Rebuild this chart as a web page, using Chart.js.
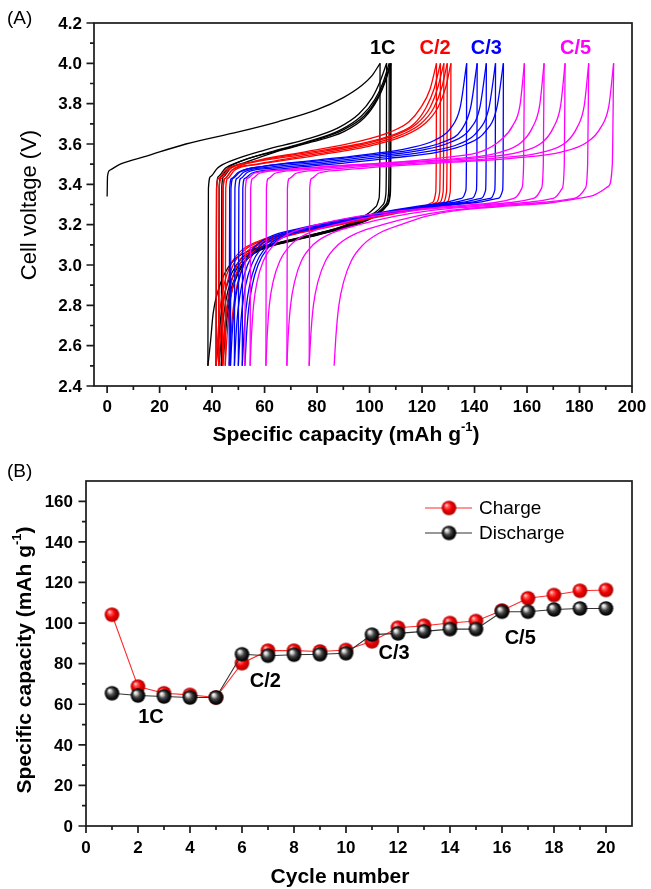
<!DOCTYPE html>
<html>
<head>
<meta charset="utf-8">
<script src="https://cdn.jsdelivr.net/npm/chart.js@4.4.1/dist/chart.umd.min.js"></script>
<style>
  html, body { margin: 0; padding: 0; background: #fff; }
  #wrap { position: relative; width: 651px; height: 889px; }
  canvas { position: absolute; left: 0; }
  #voltage { top: 0; }
  #rate { top: 445px; }
</style>
</head>
<body>
<div id="wrap">
  <canvas id="voltage" width="651" height="445"></canvas>
  <canvas id="rate" width="651" height="444"></canvas>
</div>
<script>
// ---------------- Panel A: voltage profiles, [capacity mAh/g, voltage V] ----------------
// 1C cycles
const charge01 = [[0,3.34],[0.15,3.44],[1,3.47],[5,3.50],[15,3.54],[30,3.60],[50,3.66],[65,3.71],[80,3.77],[90,3.83],[97,3.89],[101,3.94],[104,4.00]];
const discharge01 = [[38.4,2.50],[39.4,2.62],[40.4,2.76],[42,2.86],[44.5,2.95],[48,3.02],[54,3.07],[62,3.10],[75,3.14],[87,3.18],[95,3.22],[100,3.26],[102.5,3.29],[103.6,3.33],[103.9,3.45],[104,4.00]];
const charge02 = [[38.4,2.50],[38.6,3.38],[39.5,3.44],[42,3.48],[48,3.52],[60,3.57],[75,3.62],[88,3.68],[96,3.75],[101,3.83],[104,3.91],[106.5,4.00]];
const discharge02 = [[41.5,2.50],[42.5,2.63],[43.5,2.76],[45,2.87],[47.5,2.96],[51,3.03],[57,3.08],[65,3.11],[78,3.15],[90,3.19],[98,3.23],[103,3.27],[105.2,3.30],[106.2,3.35],[106.4,3.50],[106.5,4.00]];
const charge03 = [[41.5,2.50],[41.7,3.38],[42.5,3.44],[45,3.48],[50,3.51],[62,3.56],[76,3.61],[89,3.67],[97,3.74],[102,3.82],[105,3.90],[107.5,4.00]];
const discharge03 = [[42.5,2.50],[43.5,2.63],[44.5,2.76],[46,2.87],[48.5,2.96],[52,3.03],[58,3.08],[66,3.11],[79,3.15],[91,3.19],[99,3.23],[104,3.27],[106.2,3.30],[107.2,3.35],[107.4,3.50],[107.5,4.00]];
const charge04 = [[42.5,2.50],[42.7,3.39],[43.5,3.44],[46,3.48],[52,3.52],[63,3.56],[77,3.61],[90,3.67],[98,3.74],[103,3.83],[106,3.92],[108,4.00]];
const discharge04 = [[43.5,2.50],[44.4,2.63],[45.4,2.76],[47,2.87],[49.5,2.96],[53,3.03],[59,3.08],[67,3.11],[80,3.15],[92,3.19],[100,3.23],[104.5,3.27],[106.7,3.30],[107.7,3.35],[107.9,3.50],[108,4.00]];
const charge05 = [[43.5,2.50],[43.7,3.39],[44.5,3.44],[47,3.48],[53,3.51],[64,3.56],[78,3.61],[90,3.66],[98,3.73],[103,3.82],[106,3.91],[108.2,4.00]];
const discharge05 = [[44,2.50],[44.9,2.63],[45.9,2.76],[47.5,2.87],[50,2.96],[53.5,3.03],[59.5,3.08],[67.5,3.11],[80.5,3.15],[92.5,3.19],[100.5,3.23],[105,3.27],[107,3.30],[107.9,3.35],[108.1,3.50],[108.2,4.00]];
// C/2 cycles
const charge06 = [[44,2.50],[44.2,3.38],[45,3.43],[47.5,3.47],[55,3.51],[75,3.56],[95,3.61],[108,3.66],[115,3.71],[119.5,3.78],[123,3.87],[125.5,4.00]];
const discharge06 = [[41.5,2.50],[42.2,2.65],[43,2.78],[44.5,2.90],[47,3.00],[51,3.07],[58,3.12],[70,3.16],[85,3.20],[100,3.24],[112,3.27],[120,3.29],[124,3.31],[125.2,3.36],[125.4,3.50],[125.5,4.00]];
const charge07 = [[41.5,2.50],[41.7,3.38],[42.5,3.43],[45,3.47],[55,3.51],[75,3.555],[96,3.60],[110,3.65],[117,3.70],[121.5,3.78],[124.5,3.87],[127,4.00]];
const discharge07 = [[42.5,2.50],[43.2,2.65],[44,2.78],[45.5,2.90],[48,3.00],[52,3.07],[59,3.12],[71,3.16],[86,3.20],[101,3.24],[113,3.27],[121.5,3.29],[125.5,3.31],[126.7,3.36],[126.9,3.50],[127,4.00]];
const charge08 = [[42.5,2.50],[42.7,3.38],[43.5,3.43],[46,3.47],[56,3.51],[76,3.55],[98,3.60],[111,3.65],[118,3.70],[123,3.78],[126,3.88],[128.3,4.00]];
const discharge08 = [[44,2.50],[44.7,2.65],[45.5,2.78],[47,2.90],[49.5,3.00],[53.5,3.07],[60.5,3.12],[72,3.16],[87,3.20],[102,3.24],[114,3.27],[122.5,3.29],[126.8,3.31],[128,3.36],[128.2,3.50],[128.3,4.00]];
const charge09 = [[44,2.50],[44.2,3.38],[45,3.43],[47.5,3.47],[57,3.50],[77,3.545],[99,3.595],[112,3.645],[119.5,3.70],[124.5,3.78],[127.5,3.88],[129.6,4.00]];
const discharge09 = [[45,2.50],[45.7,2.65],[46.5,2.78],[48,2.90],[50.5,3.00],[54.5,3.07],[61.5,3.12],[73,3.16],[88,3.20],[103,3.24],[115,3.27],[124,3.29],[128.1,3.31],[129.3,3.36],[129.5,3.50],[129.6,4.00]];
const charge10 = [[45,2.50],[45.2,3.38],[46,3.43],[48.5,3.47],[58,3.50],[78,3.54],[100,3.59],[113,3.64],[121,3.70],[126,3.78],[129,3.88],[131,4.00]];
const discharge10 = [[46.5,2.50],[47.2,2.65],[48,2.78],[49.5,2.90],[52,3.00],[56,3.07],[63,3.12],[74,3.16],[89,3.20],[104,3.24],[116,3.27],[125,3.29],[129.5,3.31],[130.7,3.36],[130.9,3.50],[131,4.00]];
// C/3 cycles
const charge11 = [[46.5,2.50],[46.7,3.38],[47.5,3.43],[50,3.46],[60,3.49],[80,3.52],[100,3.55],[115,3.58],[125,3.62],[131,3.68],[134.5,3.78],[137,4.00]];
const discharge11 = [[47,2.50],[47.6,2.65],[48.4,2.78],[49.8,2.90],[52,3.00],[55.5,3.08],[62,3.14],[73,3.18],[88,3.22],[104,3.26],[118,3.29],[129,3.31],[135,3.33],[136.7,3.37],[136.9,3.50],[137,4.00]];
const charge12 = [[47,2.50],[47.2,3.38],[48,3.43],[50.5,3.46],[60,3.49],[80,3.515],[100,3.545],[118,3.575],[128,3.61],[135,3.67],[138.5,3.78],[141,4.00]];
const discharge12 = [[48.5,2.50],[49.1,2.65],[49.9,2.78],[51.3,2.90],[53.5,3.00],[57,3.08],[63.5,3.14],[74.5,3.18],[89.5,3.22],[105,3.26],[120,3.29],[132,3.31],[139,3.33],[140.7,3.37],[140.9,3.50],[141,4.00]];
const charge13 = [[48.5,2.50],[48.7,3.38],[49.5,3.43],[52,3.46],[62,3.485],[82,3.51],[102,3.54],[120,3.57],[131,3.61],[138,3.67],[142,3.78],[144.5,4.00]];
const discharge13 = [[50,2.50],[50.6,2.65],[51.4,2.78],[52.8,2.90],[55,3.00],[58.5,3.08],[65,3.14],[76,3.18],[91,3.22],[106,3.26],[122,3.29],[135,3.31],[142.5,3.33],[144.2,3.37],[144.4,3.50],[144.5,4.00]];
const charge14 = [[50,2.50],[50.2,3.38],[51,3.43],[53.5,3.46],[63,3.48],[84,3.505],[105,3.535],[123,3.565],[134,3.60],[141,3.66],[145.5,3.78],[148,4.00]];
const discharge14 = [[51.5,2.50],[52.1,2.65],[52.9,2.78],[54.3,2.90],[56.5,3.00],[60,3.08],[66.5,3.14],[77.5,3.18],[92.5,3.22],[108,3.26],[124,3.29],[138,3.31],[146,3.33],[147.7,3.37],[147.9,3.50],[148,4.00]];
const charge15 = [[51.5,2.50],[51.7,3.38],[52.5,3.43],[55,3.455],[65,3.475],[86,3.50],[108,3.53],[126,3.56],[137,3.60],[144,3.66],[148.5,3.78],[151,4.00]];
const discharge15 = [[52.5,2.50],[53.1,2.65],[53.9,2.78],[55.3,2.90],[57.5,3.00],[61,3.08],[67.5,3.14],[78.5,3.18],[93.5,3.22],[109,3.26],[126,3.29],[141,3.31],[149,3.33],[150.7,3.37],[150.9,3.50],[151,4.00]];
// C/5 cycles
const charge16 = [[52.5,2.50],[52.7,3.38],[53.5,3.43],[56,3.455],[65,3.47],[85,3.49],[110,3.51],[130,3.535],[143,3.565],[150,3.62],[154.5,3.69],[157.3,3.79],[159,4.00]];
const discharge16 = [[54.5,2.50],[55,2.65],[55.8,2.80],[57.2,2.92],[59.5,3.02],[63.5,3.10],[70,3.16],[80,3.20],[95,3.24],[112,3.27],[130,3.29],[148,3.31],[155,3.33],[158,3.38],[158.7,3.50],[159,4.00]];
const charge17 = [[54.5,2.50],[54.7,3.38],[55.5,3.43],[58,3.455],[67,3.47],[87,3.49],[112,3.51],[135,3.53],[150,3.56],[158,3.61],[162,3.68],[164.8,3.79],[166.5,4.00]];
const discharge17 = [[60.5,2.50],[61,2.65],[61.8,2.80],[63.3,2.92],[65.8,3.02],[70,3.10],[77,3.16],[87,3.20],[101,3.24],[117,3.27],[135,3.29],[154,3.31],[162.5,3.33],[165.5,3.38],[166.2,3.50],[166.5,4.00]];
const charge18 = [[60.5,2.50],[60.7,3.38],[61.5,3.43],[64,3.455],[73,3.47],[93,3.49],[118,3.51],[140,3.53],[157,3.56],[166,3.61],[170,3.68],[172.8,3.79],[174.5,4.00]];
const discharge18 = [[68.5,2.50],[69,2.65],[69.9,2.80],[71.5,2.92],[74,3.02],[78.5,3.10],[86,3.16],[96,3.20],[109,3.24],[123,3.27],[140,3.29],[160,3.31],[170,3.33],[173.4,3.38],[174.2,3.50],[174.5,4.00]];
const charge19 = [[68.5,2.50],[68.7,3.38],[69.5,3.43],[72,3.455],[81,3.47],[100,3.49],[125,3.51],[148,3.53],[166,3.56],[175,3.61],[179,3.68],[181.8,3.79],[183.5,4.00]];
const discharge19 = [[77,2.50],[77.6,2.65],[78.6,2.80],[80.4,2.92],[83.2,3.02],[88,3.10],[95.5,3.16],[105,3.20],[117,3.24],[130,3.27],[146,3.29],[166,3.31],[178,3.33],[182.2,3.38],[183.1,3.50],[183.5,4.00]];
const charge20 = [[77,2.50],[77.2,3.38],[78,3.43],[80.5,3.455],[89,3.47],[108,3.49],[132,3.51],[155,3.53],[173,3.56],[183,3.61],[188,3.68],[191.2,3.79],[193,4.00]];
const discharge20 = [[86.5,2.50],[87.2,2.65],[88.3,2.80],[90.2,2.92],[93,3.02],[97.5,3.10],[104,3.16],[112,3.20],[121,3.24],[133,3.27],[150,3.29],[170,3.31],[184,3.34],[191,3.39],[192.5,3.50],[193,4.00]];

const cycleRates = ['1C','1C','1C','1C','1C','C/2','C/2','C/2','C/2','C/2','C/3','C/3','C/3','C/3','C/3','C/5','C/5','C/5','C/5','C/5'];
const chargeCurves = [charge01,charge02,charge03,charge04,charge05,charge06,charge07,charge08,charge09,charge10,charge11,charge12,charge13,charge14,charge15,charge16,charge17,charge18,charge19,charge20];
const dischargeCurves = [discharge01,discharge02,discharge03,discharge04,discharge05,discharge06,discharge07,discharge08,discharge09,discharge10,discharge11,discharge12,discharge13,discharge14,discharge15,discharge16,discharge17,discharge18,discharge19,discharge20];

const voltageTicks = [2.4,2.6,2.8,3.0,3.2,3.4,3.6,3.8,4.0,4.2];
const voltageMinorTicks = [2.5,2.7,2.9,3.1,3.3,3.5,3.7,3.9,4.1];
const capacityTicks = [0,20,40,60,80,100,120,140,160,180,200];
const capacityMinorTicks = [10,30,50,70,90,110,130,150,170,190];

const rateLabels = ['1C','C/2','C/3','C/5'];
const rateLabelCapacity = [105,125,144.5,178.5];
const rateLabelVoltage = [4.075,4.075,4.075,4.075];

// ---------------- Panel B: rate capability ----------------
const cycleNumbers = [1,2,3,4,5,6,7,8,9,10,11,12,13,14,15,16,17,18,19,20];
const chargeCapacity = [104.1,68.7,65.4,64.6,63.3,80.2,86.4,86.4,86.0,86.7,91.0,97.7,98.7,100.0,101.0,106.2,112.2,113.8,115.9,116.3];
const dischargeCapacity = [65.4,64.3,63.8,63.3,63.3,84.6,83.9,84.4,84.6,85.1,94.3,94.9,95.9,97.0,97.0,105.6,105.6,106.7,107.2,107.2];

const cycleTicks = [0,2,4,6,8,10,12,14,16,18,20];
const cycleMinorTicks = [1,3,5,7,9,11,13,15,17,19];
const specCapTicks = [0,20,40,60,80,100,120,140,160];
const specCapMinorTicks = [10,30,50,70,90,110,130,150];

const rateLabelCycle = [2.5,6.9,11.85,16.7];
const rateLabelSpecCap = [53.5,71,85,92.5];

// ---------------- styling ----------------
const FONT = '"Liberation Sans", Arial, Helvetica, sans-serif';
const rateColours = { '1C': '#000000', 'C/2': '#ff0000', 'C/3': '#0000ff', 'C/5': '#ff00ff' };
const AXIS_COLOUR = '#1a1a1a';

function ball(r, stops) {
  const size = Math.ceil(2 * r + 2);
  const c = document.createElement('canvas');
  c.width = size; c.height = size;
  const g = c.getContext('2d');
  const cx = size / 2, cy = size / 2;
  const grad = g.createRadialGradient(cx - r * 0.38, cy - r * 0.42, r * 0.05, cx, cy, r);
  stops.forEach(([o, col]) => grad.addColorStop(o, col));
  g.fillStyle = grad;
  g.beginPath(); g.arc(cx, cy, r, 0, Math.PI * 2); g.fill();
  return c;
}
const redBall = ball(7.3, [[0, '#ffd8d8'], [0.22, '#ff5a5a'], [0.55, '#f20000'], [1, '#a80000']]);
const blackBall = ball(7.3, [[0, '#ffffff'], [0.2, '#c4c4c4'], [0.45, '#4a4a4a'], [0.75, '#121212'], [1, '#000000']]);

function drawRich(ctx, parts, x, y, size, weight, rotate) {
  ctx.save();
  ctx.translate(x, y);
  if (rotate) ctx.rotate(-Math.PI / 2);
  const supSize = Math.round(size * 0.62);
  let total = 0;
  parts.forEach(p => {
    ctx.font = `${weight} ${p.sup ? supSize : size}px ${FONT}`;
    p.w = ctx.measureText(p.t).width;
    total += p.w;
  });
  let cur = -total / 2;
  ctx.textBaseline = 'middle';
  ctx.textAlign = 'left';
  ctx.fillStyle = '#000';
  parts.forEach(p => {
    ctx.font = `${weight} ${p.sup ? supSize : size}px ${FONT}`;
    ctx.fillText(p.t, cur, p.sup ? -size * 0.36 : 0);
    cur += p.w;
  });
  ctx.restore();
}

function frame(chart, o) {
  const { ctx, chartArea: a } = chart;
  const xs = chart.scales.x, ys = chart.scales.y;
  ctx.save();
  ctx.strokeStyle = AXIS_COLOUR;
  ctx.lineWidth = 1.7;
  ctx.strokeRect(a.left, a.top, a.right - a.left, a.bottom - a.top);
  ctx.beginPath();
  o.xMajor.forEach(v => { const p = xs.getPixelForValue(v); ctx.moveTo(p, a.bottom); ctx.lineTo(p, a.bottom + 7); });
  o.xMinor.forEach(v => { const p = xs.getPixelForValue(v); ctx.moveTo(p, a.bottom); ctx.lineTo(p, a.bottom + 4); });
  o.yMajor.forEach(v => { const p = ys.getPixelForValue(v); ctx.moveTo(a.left, p); ctx.lineTo(a.left - 7.5, p); });
  o.yMinor.forEach(v => { const p = ys.getPixelForValue(v); ctx.moveTo(a.left, p); ctx.lineTo(a.left - 4, p); });
  ctx.stroke();

  ctx.fillStyle = '#000';
  ctx.font = `bold 17px ${FONT}`;
  ctx.textAlign = 'center';
  ctx.textBaseline = 'middle';
  o.xMajor.forEach(v => ctx.fillText(o.xFmt(v), xs.getPixelForValue(v), o.xLabelY));
  ctx.textAlign = 'right';
  o.yMajor.forEach(v => ctx.fillText(o.yFmt(v), o.yLabelRight, ys.getPixelForValue(v) + 1));

  // panel tag
  ctx.font = `19px ${FONT}`;
  ctx.textAlign = 'left';
  ctx.fillText(o.tag, 7, o.tagY);
  ctx.restore();

  drawRich(ctx, o.xTitle, o.xTitlePos[0], o.xTitlePos[1], 21, 'bold', false);
  drawRich(ctx, o.yTitle, o.yTitlePos[0], o.yTitlePos[1], o.yTitleSize, o.yTitleWeight, true);
}

// ---------------- Chart A ----------------
const voltageSets = [];
cycleRates.forEach((rate, i) => {
  [chargeCurves[i], dischargeCurves[i]].forEach((curve, k) => {
    voltageSets.push({
      label: `cycle ${i + 1} ${k ? 'discharge' : 'charge'}`,
      data: curve.map(([x, y]) => ({ x, y })),
      borderColor: rateColours[rate],
      borderWidth: 1.3,
      pointRadius: 0,
      showLine: true,
      fill: false,
      cubicInterpolationMode: 'monotone',
      order: 100 - i
    });
  });
});

new Chart(document.getElementById('voltage'), {
  type: 'scatter',
  data: { datasets: voltageSets },
  options: {
    responsive: false,
    animation: false,
    devicePixelRatio: 1,
    layout: { padding: { top: 23, right: 19, left: 0, bottom: 0 } },
    plugins: { legend: { display: false }, tooltip: { enabled: false } },
    scales: {
      x: {
        type: 'linear', min: -5, max: 200,
        grid: { display: false }, border: { display: false },
        ticks: { display: false },
        afterFit: s => { s.height = 59; }
      },
      y: {
        type: 'linear', min: 2.4, max: 4.2,
        grid: { display: false }, border: { display: false },
        ticks: { display: false },
        afterFit: s => { s.width = 94; }
      }
    }
  },
  plugins: [{
    id: 'voltageFrame',
    afterDraw(chart) {
      frame(chart, {
        xMajor: capacityTicks, xMinor: capacityMinorTicks,
        yMajor: voltageTicks, yMinor: voltageMinorTicks,
        xFmt: v => String(v), yFmt: v => v.toFixed(1),
        xLabelY: 407, yLabelRight: 82,
        tag: '(A)', tagY: 19,
        xTitle: [{ t: 'Specific capacity (mAh g' }, { t: '-1', sup: true }, { t: ')' }],
        xTitlePos: [346, 435],
        yTitle: [{ t: 'Cell voltage (V)' }],
        yTitlePos: [30, 205], yTitleSize: 22, yTitleWeight: 'normal'
      });
      const { ctx } = chart;
      ctx.save();
      ctx.font = `bold 20px ${FONT}`;
      ctx.textAlign = 'center';
      ctx.textBaseline = 'middle';
      rateLabels.forEach((t, i) => {
        ctx.fillStyle = rateColours[t];
        ctx.fillText(t, chart.scales.x.getPixelForValue(rateLabelCapacity[i]), chart.scales.y.getPixelForValue(rateLabelVoltage[i]));
      });
      ctx.restore();
    }
  }]
});

// ---------------- Chart B ----------------
new Chart(document.getElementById('rate'), {
  type: 'scatter',
  data: {
    datasets: [
      {
        label: 'Charge',
        data: cycleNumbers.map((c, i) => ({ x: c, y: chargeCapacity[i] })),
        showLine: true, borderColor: '#ff2a2a', borderWidth: 1.1,
        pointStyle: redBall, pointRadius: 7, order: 2
      },
      {
        label: 'Discharge',
        data: cycleNumbers.map((c, i) => ({ x: c, y: dischargeCapacity[i] })),
        showLine: true, borderColor: '#333333', borderWidth: 1.1,
        pointStyle: blackBall, pointRadius: 7, order: 1
      }
    ]
  },
  options: {
    responsive: false,
    animation: false,
    devicePixelRatio: 1,
    layout: { padding: { top: 36, right: 19, left: 0, bottom: 0 } },
    plugins: { legend: { display: false }, tooltip: { enabled: false } },
    scales: {
      x: {
        type: 'linear', min: 0, max: 21,
        grid: { display: false }, border: { display: false },
        ticks: { display: false },
        afterFit: s => { s.height = 63; }
      },
      y: {
        type: 'linear', min: 0, max: 170,
        grid: { display: false }, border: { display: false },
        ticks: { display: false },
        afterFit: s => { s.width = 86; }
      }
    }
  },
  plugins: [{
    id: 'rateFrame',
    afterDraw(chart) {
      frame(chart, {
        xMajor: cycleTicks, xMinor: cycleMinorTicks,
        yMajor: specCapTicks, yMinor: specCapMinorTicks,
        xFmt: v => String(v), yFmt: v => String(v),
        xLabelY: 403, yLabelRight: 73,
        tag: '(B)', tagY: 27,
        xTitle: [{ t: 'Cycle number' }],
        xTitlePos: [340, 432],
        yTitle: [{ t: 'Specific capacity (mAh g' }, { t: '-1', sup: true }, { t: ')' }],
        yTitlePos: [25, 215], yTitleSize: 21, yTitleWeight: 'bold'
      });
      const { ctx } = chart;
      ctx.save();
      ctx.font = `bold 20px ${FONT}`;
      ctx.textAlign = 'center';
      ctx.textBaseline = 'middle';
      ctx.fillStyle = '#000';
      rateLabels.forEach((t, i) => {
        ctx.fillText(t, chart.scales.x.getPixelForValue(rateLabelCycle[i]), chart.scales.y.getPixelForValue(rateLabelSpecCap[i]));
      });
      // legend
      const entries = [['Charge', '#ff2a2a', redBall, 63], ['Discharge', '#333333', blackBall, 88]];
      ctx.font = `19px ${FONT}`;
      ctx.textAlign = 'left';
      entries.forEach(([name, col, img, y]) => {
        ctx.strokeStyle = col; ctx.lineWidth = 1.1;
        ctx.beginPath(); ctx.moveTo(425, y); ctx.lineTo(472, y); ctx.stroke();
        ctx.drawImage(img, 449 - img.width / 2, y - img.height / 2);
        ctx.fillStyle = '#000';
        ctx.fillText(name, 479, y + 1);
      });
      ctx.restore();
    }
  }]
});
</script>
</body>
</html>
